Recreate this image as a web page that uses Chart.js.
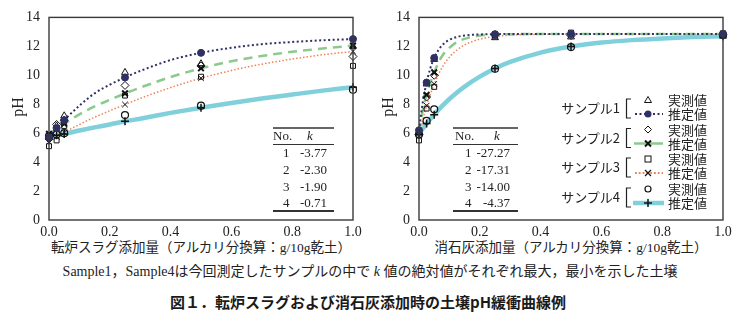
<!DOCTYPE html>
<html>
<head>
<meta charset="utf-8">
<script src="https://cdn.jsdelivr.net/npm/chart.js@4"></script>
<style>
  body { margin: 0; background: #fff; width: 744px; height: 323px; position: relative; overflow: hidden;
         font-family: "Liberation Serif", "Noto Sans CJK JP", serif; color: #222; }
  canvas { position: absolute; top: 0; }
  .txt { position: absolute; white-space: nowrap; }
  .ctr { text-align: center; width: 500px; }
  .ktab { position: absolute; font-size: 13px; }
  .ktab .rule { position: absolute; left: 0; right: 0; background: #333; }
  .ktab span { position: absolute; line-height: 16px; }
  #legendSvg { position: absolute; left: 0; top: 0; }
  .lg { position: absolute; font-size: 13px; line-height: 16px; white-space: nowrap; font-family: "Noto Sans CJK JP", sans-serif; color: #222; }
</style>
</head>
<body>
<canvas id="slagChart" width="370" height="240" style="left:0"></canvas>
<canvas id="limeChart" width="370" height="240" style="left:370px"></canvas>

<div class="txt" style="left:8px;top:97px;font-size:16px;transform:rotate(-90deg);transform-origin:center;width:20px;height:20px;line-height:20px;text-align:center">pH</div>
<div class="txt" style="left:378px;top:97px;font-size:16px;transform:rotate(-90deg);transform-origin:center;width:20px;height:20px;line-height:20px;text-align:center">pH</div>

<div class="txt ctr" style="left:-49px;top:240px;font-size:13.5px;line-height:16px">転炉スラグ添加量（アルカリ分換算：g/10g乾土）</div>
<div class="txt ctr" style="left:321px;top:240px;font-size:13.5px;line-height:16px">消石灰添加量（アルカリ分換算：g/10g乾土）</div>
<div class="txt ctr" style="left:-2px;width:744px;top:263px;font-size:14px;line-height:18px">Sample1，Sample4は今回測定したサンプルの中で <i>k</i> 値の絶対値がそれぞれ最大，最小を示した土壌</div>
<div class="txt ctr" style="left:118px;top:292px;font-size:15px;line-height:20px;font-weight:bold;font-family:'Noto Sans CJK JP',sans-serif;color:#1a1a1a">図１．転炉スラグおよび消石灰添加時の土壌pH緩衝曲線例</div>

<div id="slagTable" class="ktab" style="left:273px;top:127px;width:61px;height:85px"></div>
<div id="limeTable" class="ktab" style="left:453px;top:127px;width:65px;height:85px"></div>

<svg id="legendSvg" width="744" height="323"></svg>
<div id="legendText"></div>

<script>
  // sample x positions (g/10g)
  const doseX = [0, 0.025, 0.05, 0.25, 0.5, 1.0];
  const slagFitX = [0, 0.025, 0.05, 0.1, 0.15, 0.2, 0.25, 0.3, 0.4, 0.5, 0.6, 0.7, 0.8, 0.9, 1.0];
  const limeFitX = [0, 0.0125, 0.025, 0.0375, 0.05, 0.075, 0.1, 0.125, 0.15, 0.2, 0.25, 0.3, 0.4, 0.5, 0.6, 0.7, 0.8, 0.9, 1.0];

  // 転炉スラグ
  const slagMeas1 = [5.8, 6.5, 7.2, 10.2, 10.8, 12.0];
  const slagMeas2 = [5.6, 6.6, 6.9, 9.3, 10.65, 11.3];
  const slagMeas3 = [5.1, 5.5, 6.5, 8.6, 9.9, 10.65];
  const slagMeas4 = [5.8, 5.9, 6.0, 7.25, 7.9, 9.0];
  const slagEst1 = [5.7, 6.35, 6.9, 9.85, 11.55, 12.5];
  const slagEst2 = [5.95, 6.3, 6.65, 8.75, 10.48, 12.05];
  const slagEst3 = [5.4, 5.75, 6.05, 7.98, 9.8, 11.65];
  const slagEst4 = [5.75, 5.85, 5.95, 6.82, 7.76, 9.18];
  const slagFit1 = [5.7, 6.35, 6.9, 7.9, 8.75, 9.35, 9.85, 10.3, 11.05, 11.55, 11.9, 12.15, 12.3, 12.42, 12.5];
  const slagFit2 = [5.95, 6.3, 6.65, 7.3, 7.85, 8.3, 8.75, 9.15, 9.88, 10.48, 10.97, 11.33, 11.62, 11.85, 12.05];
  const slagFit3 = [5.4, 5.75, 6.05, 6.6, 7.1, 7.55, 7.98, 8.4, 9.15, 9.8, 10.33, 10.77, 11.12, 11.42, 11.65];
  const slagFit4 = [5.75, 5.85, 5.95, 6.18, 6.4, 6.6, 6.82, 7.0, 7.4, 7.76, 8.08, 8.39, 8.67, 8.94, 9.18];

  // 消石灰
  const limeMeas1 = [6.0, 9.4, 11.1, 12.6, 12.65, 12.7];
  const limeMeas2 = [5.9, 8.5, 10.0, 12.8, 12.75, 12.8];
  const limeMeas3 = [5.5, 7.7, 9.2, 12.75, 12.95, 12.9];
  const limeMeas4 = [5.9, 6.85, 7.65, 10.45, 11.95, 12.8];
  const limeEst1 = [6.2, 9.5, 11.2, 12.84, 12.85, 12.85];
  const limeEst2 = [6.1, 8.65, 10.2, 12.81, 12.85, 12.85];
  const limeEst3 = [5.8, 7.9, 9.4, 12.68, 12.85, 12.85];
  const limeEst4 = [5.95, 6.66, 7.28, 10.47, 11.99, 12.7];
  const limeFit1 = [6.2, 8.15, 9.5, 10.5, 11.2, 12.05, 12.45, 12.65, 12.75, 12.82, 12.84, 12.85, 12.85, 12.85, 12.85, 12.85, 12.85, 12.85, 12.85];
  const limeFit2 = [6.1, 7.6, 8.65, 9.5, 10.2, 11.3, 11.9, 12.3, 12.52, 12.74, 12.81, 12.84, 12.85, 12.85, 12.85, 12.85, 12.85, 12.85, 12.85];
  const limeFit3 = [5.8, 6.95, 7.9, 8.7, 9.4, 10.5, 11.25, 11.75, 12.1, 12.5, 12.68, 12.77, 12.83, 12.85, 12.85, 12.85, 12.85, 12.85, 12.85];
  const limeFit4 = [5.95, 6.31, 6.66, 6.98, 7.28, 7.85, 8.36, 8.81, 9.22, 9.91, 10.47, 10.92, 11.57, 11.99, 12.26, 12.43, 12.55, 12.64, 12.7];

  const tableNo = ['1', '2', '3', '4'];
  const slagK = ['-3.77', '-2.30', '-1.90', '-0.71'];
  const limeK = ['-27.27', '-17.31', '-14.00', '-4.37'];
  const sampleNames = ['サンプル1', 'サンプル2', 'サンプル3', 'サンプル4'];

  const navy = '#2f3166';
  const green = '#8acb8c';
  const orange = '#f08152';
  const cyan = '#80d0dc';
  const ink = '#111';

  function pts(xs, ys) {
    return xs.map((x, i) => ({ x: x, y: ys[i] }));
  }

  function fitLine(xs, ys, color, width, dash) {
    return {
      data: pts(xs, ys), showLine: true, pointRadius: 0, borderColor: color, borderWidth: width,
      borderDash: dash, cubicInterpolationMode: 'monotone', fill: false
    };
  }

  function marks(ys, style, radius, fillColor, edgeWidth, edgeColor) {
    return {
      data: pts(doseX, ys), showLine: false, pointStyle: style, pointRadius: radius,
      pointBackgroundColor: fillColor, pointBorderColor: edgeColor || ink, pointBorderWidth: edgeWidth, clip: false
    };
  }

  const framePlugin = {
    id: 'frame',
    afterDatasetsDraw(chart) {
      const a = chart.chartArea;
      const c = chart.ctx;
      c.save();
      c.strokeStyle = '#3a3a3a';
      c.lineWidth = 1.4;
      c.strokeRect(a.left, a.top, a.right - a.left, a.bottom - a.top);
      c.restore();
    }
  };

  function makeOptions() {
    const tickFont = { family: "'Liberation Serif', serif", size: 14 };
    return {
      responsive: false, animation: false, devicePixelRatio: 1,
      layout: { padding: { left: 2, right: 17, top: 15, bottom: 0 } },
      plugins: { legend: { display: false }, tooltip: { enabled: false } },
      scales: {
        x: {
          type: 'linear', min: 0, max: 1,
          grid: { display: false, drawTicks: false }, border: { display: false },
          ticks: { stepSize: 0.2, padding: 4, color: '#222', font: tickFont, maxRotation: 0,
                   callback: v => Number(v).toFixed(1) },
          afterFit: s => { s.height = 20; }
        },
        y: {
          min: 0, max: 14,
          grid: { display: false, drawTicks: false }, border: { display: false },
          ticks: { stepSize: 2, padding: 9, color: '#222', font: tickFont },
          afterFit: s => { s.width = 47; }
        }
      }
    };
  }

  function makeDatasets(fitX, meas, est, fits) {
    return [
      marks(est[0], 'circle', 3.5, navy, 1, navy),
      marks(est[1], 'crossRot', 4, ink, 2),
      marks(est[2], 'crossRot', 4, ink, 1),
      marks(est[3], 'cross', 4, ink, 1.5),
      marks(meas[0], 'triangle', 4, 'rgba(255,255,255,0)', 1),
      marks(meas[1], 'rectRot', 4, 'rgba(255,255,255,0)', 1),
      marks(meas[2], 'rect', 3.5, 'rgba(255,255,255,0)', 1),
      marks(meas[3], 'circle', 3.5, 'rgba(255,255,255,0)', 1.2),
      fitLine(fitX, fits[0], navy, 2, [2, 2.5]),
      fitLine(fitX, fits[1], green, 2.5, [9, 6]),
      fitLine(fitX, fits[2], orange, 1.5, [1.5, 2]),
      fitLine(fitX, fits[3], cyan, 4.5, [])
    ];
  }

  const ctx = document.getElementById('slagChart').getContext('2d');
  new Chart(ctx, {
    type: 'scatter',
    data: { datasets: makeDatasets(slagFitX,
      [slagMeas1, slagMeas2, slagMeas3, slagMeas4],
      [slagEst1, slagEst2, slagEst3, slagEst4],
      [slagFit1, slagFit2, slagFit3, slagFit4]) },
    options: makeOptions(),
    plugins: [framePlugin]
  });

  const ctx2 = document.getElementById('limeChart').getContext('2d');
  new Chart(ctx2, {
    type: 'scatter',
    data: { datasets: makeDatasets(limeFitX,
      [limeMeas1, limeMeas2, limeMeas3, limeMeas4],
      [limeEst1, limeEst2, limeEst3, limeEst4],
      [limeFit1, limeFit2, limeFit3, limeFit4]) },
    options: makeOptions(),
    plugins: [framePlugin]
  });

  // k tables
  function buildTable(id, values, noX, kX, valRight) {
    const box = document.getElementById(id);
    let html = '<div class="rule" style="top:0;height:1.5px;background:#666"></div>';
    html += '<span style="top:1px;left:' + noX + 'px">No.</span>';
    html += '<span style="top:1px;left:' + kX + 'px"><i>k</i></span>';
    html += '<div class="rule" style="top:16.5px;height:1px"></div>';
    values.forEach((v, i) => {
      const top = 18 + i * 16.8;
      html += '<span style="top:' + top + 'px;left:' + (noX + 10) + 'px">' + tableNo[i] + '</span>';
      html += '<span style="top:' + top + 'px;right:' + valRight + 'px">' + v + '</span>';
    });
    html += '<div class="rule" style="top:83px;height:1.5px"></div>';
    box.innerHTML = html;
  }
  buildTable('slagTable', slagK, 0, 34, 7);
  buildTable('limeTable', limeK, 2, 41, 8);

  // legend (right chart)
  const svg = document.getElementById('legendSvg');
  const textBox = document.getElementById('legendText');
  const groupY = [108, 137.5, 167, 197];
  let s = '';
  let t = '';
  groupY.forEach((yc, i) => {
    const ym = yc - 8, ye = yc + 6;
    s += '<path d="M631 ' + (yc - 9) + ' H626.5 V' + (yc + 10) + ' H631" fill="none" stroke="#222" stroke-width="1.2"/>';
    if (i === 0) s += '<polygon points="648,' + (ym - 3.5) + ' 651.5,' + (ym + 2.5) + ' 644.5,' + (ym + 2.5) + '" fill="none" stroke="#111" stroke-width="1"/>';
    if (i === 1) s += '<polygon points="648,' + (ym - 3.5) + ' 651.5,' + ym + ' 648,' + (ym + 3.5) + ' 644.5,' + ym + '" fill="none" stroke="#111" stroke-width="1"/>';
    if (i === 2) s += '<rect x="645" y="' + (ym - 3) + '" width="6" height="6" fill="none" stroke="#111" stroke-width="1"/>';
    if (i === 3) s += '<circle cx="648" cy="' + ym + '" r="3" fill="none" stroke="#111" stroke-width="1.2"/>';
    if (i === 0) {
      s += '<line x1="635" x2="663" y1="' + ye + '" y2="' + ye + '" stroke="' + navy + '" stroke-width="2" stroke-dasharray="2 2.5"/>';
      s += '<circle cx="648" cy="' + ye + '" r="3.5" fill="' + navy + '"/>';
    } else if (i === 1) {
      s += '<line x1="634" x2="663" y1="' + ye + '" y2="' + ye + '" stroke="' + green + '" stroke-width="2.5"/>';
      s += '<path d="M645 ' + (ye - 3) + ' L651 ' + (ye + 3) + ' M651 ' + (ye - 3) + ' L645 ' + (ye + 3) + '" stroke="#111" stroke-width="2"/>';
    } else if (i === 2) {
      s += '<line x1="635" x2="663" y1="' + ye + '" y2="' + ye + '" stroke="' + orange + '" stroke-width="1.8" stroke-dasharray="1.8 2"/>';
      s += '<path d="M645 ' + (ye - 3) + ' L651 ' + (ye + 3) + ' M651 ' + (ye - 3) + ' L645 ' + (ye + 3) + '" stroke="#111" stroke-width="1.2"/>';
    } else {
      s += '<line x1="633" x2="664" y1="' + ye + '" y2="' + ye + '" stroke="' + cyan + '" stroke-width="4.5"/>';
      s += '<path d="M644 ' + ye + ' H652 M648 ' + (ye - 4) + ' V' + (ye + 4) + '" stroke="#111" stroke-width="1.5"/>';
    }
    t += '<div class="lg" style="left:530px;width:90px;text-align:right;top:' + (yc - 8) + 'px">' + sampleNames[i] + '</div>';
    t += '<div class="lg" style="left:668px;top:' + (ym - 8) + 'px">実測値</div>';
    t += '<div class="lg" style="left:668px;top:' + (ye - 8) + 'px">推定値</div>';
  });
  svg.innerHTML = s;
  textBox.innerHTML = t;
</script>
</body>
</html>
